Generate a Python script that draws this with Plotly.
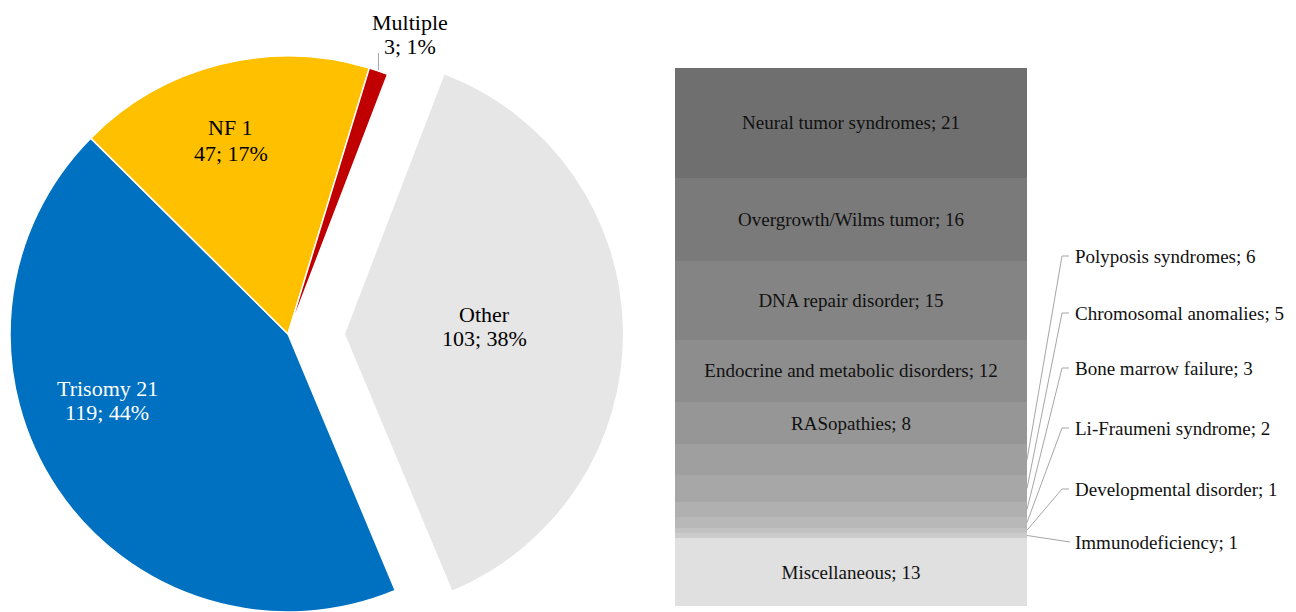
import math
import plotly.graph_objects as go

# ---------------- data ----------------
pie_labels = ["Trisomy 21", "NF 1", "Multiple", "Other"]
pie_values = [119, 47, 3, 103]
pie_colors = ["#0070C0", "#FFC000", "#C00000", "#E7E6E6"]
pie_text_colors = ["white", "black", "black", "black"]

# stacked bar of the "Other" group, bottom to top
bar_labels = ["Miscellaneous", "Immunodeficiency", "Developmental disorder",
              "Li-Fraumeni syndrome", "Bone marrow failure", "Chromosomal anomalies",
              "Polyposis syndromes", "RASopathies", "Endocrine and metabolic disorders",
              "DNA repair disorder", "Overgrowth/Wilms tumor", "Neural tumor syndromes"]
bar_values = [13, 1, 1, 2, 3, 5, 6, 8, 12, 15, 16, 21]
bar_colors = ["#E0E0E0", "#CBCBCB", "#C2C2C2", "#B8B8B8", "#B0B0B0", "#A7A7A7",
              "#9F9F9F", "#969696", "#8D8D8D", "#848484", "#7A7A7A", "#6F6F6F"]
callout = ["Polyposis syndromes", "Chromosomal anomalies", "Bone marrow failure",
           "Li-Fraumeni syndrome", "Developmental disorder", "Immunodeficiency"]

# ---------------- layout constants (pixels) ----------------
W, H = 1296, 612
FONT = "Liberation Serif, Times New Roman, serif"
CX, CY, R = 288, 334, 278        # pie centre / radius
PULL_PX = 57                      # offset of the exploded "Other" slice
ROT = 157.3                       # start angle of first slice (clockwise from 12 o'clock)

BAR_L, BAR_R, BAR_T, BAR_B = 675, 1027, 68, 606

total = sum(pie_values)

def dom_x(cx):
    return [max(0, (cx - R) / W), min(1, (cx + R) / W)]

dom_y = [max(0.0, (H - CY - R) / H), min(1.0, (H - CY + R) / H)]

fig = go.Figure()

# main pie (Other hidden)
colsA = [c if l != "Other" else "rgba(0,0,0,0)" for l, c in zip(pie_labels, pie_colors)]
lwA = [1.5 if l != "Other" else 0 for l in pie_labels]
fig.add_trace(go.Pie(labels=pie_labels, values=pie_values, sort=False,
                     direction="clockwise", rotation=ROT,
                     marker=dict(colors=colsA, line=dict(color="white", width=lwA)),
                     textinfo="none", hoverinfo="label+value+percent",
                     domain=dict(x=dom_x(CX), y=dom_y), showlegend=False))
# exploded "Other" slice
colsB = [c if l == "Other" else "rgba(0,0,0,0)" for l, c in zip(pie_labels, pie_colors)]
fig.add_trace(go.Pie(labels=pie_labels, values=pie_values, sort=False,
                     direction="clockwise", rotation=ROT,
                     marker=dict(colors=colsB, line=dict(color="white", width=0)),
                     textinfo="none", hoverinfo="skip",
                     domain=dict(x=dom_x(CX + PULL_PX), y=dom_y), showlegend=False))

# pie labels (two lines each)
pie_label_pos = {"Trisomy 21": (107, 388, 412), "NF 1": (231, 127, 153),
                 "Multiple": (410, 23, 47), "Other": (484, 314, 338)}
for lab, val, tc in zip(pie_labels, pie_values, pie_text_colors):
    px, py1, py2 = pie_label_pos[lab]
    pct = round(val * 100 / total)
    for txt, py in ((lab, py1), (f"{val}; {pct}%", py2)):
        fig.add_annotation(x=px / W, y=1 - py / H, xref="paper", yref="paper",
                           xanchor="center", yanchor="middle",
                           text=txt, showarrow=False,
                           font=dict(family=FONT, size=22, color=tc))

# leader line for "Multiple"
cum = 0
for lab, val in zip(pie_labels, pie_values):
    if lab == "Multiple":
        mid = math.radians(ROT + (cum + val / 2) / total * 360)
        ex = CX + R * math.sin(mid)
        ey = CY - R * math.cos(mid)
        fig.add_shape(type="line", xref="paper", yref="paper",
                      x0=ex / W, y0=1 - (ey - 1) / H, x1=ex / W, y1=1 - 53 / H,
                      line=dict(color="#A6A6A6", width=1))
    cum += val

# ---------------- stacked bar ----------------
bar_total = sum(bar_values)
unit_px = BAR_R - BAR_L
x_range = [-0.5, -0.5 + (W - BAR_L) / unit_px]

for lab, val, col in zip(bar_labels, bar_values, bar_colors):
    txt = "" if lab in callout else f"{lab}; {val}"
    fig.add_trace(go.Bar(x=[0], y=[val], width=[1], marker=dict(color=col, line=dict(width=0)),
                         text=[txt], textposition="inside", insidetextanchor="middle",
                         textangle=0, constraintext="none",
                         textfont=dict(family=FONT, size=19, color="#111111"),
                         hoverinfo="name+y", name=lab, showlegend=False,
                         xaxis="x", yaxis="y"))

# call-out labels with leader lines
label_py = {"Polyposis syndromes": 256, "Chromosomal anomalies": 313,
            "Bone marrow failure": 368, "Li-Fraumeni syndrome": 428,
            "Developmental disorder": 489, "Immunodeficiency": 542}
def px_to_x(px):
    return (px - BAR_L) / unit_px - 0.5
def py_to_y(py):
    return (BAR_B - py) / (BAR_B - BAR_T) * bar_total

base = 0
for lab, val in zip(bar_labels, bar_values):
    if lab in callout:
        yc = base + val / 2
        yl = py_to_y(label_py[lab])
        if lab == "Immunodeficiency":
            xs = [0.5, px_to_x(1070)]
            ys = [yc, yl]
        else:
            xs = [0.5, px_to_x(1062), px_to_x(1069)]
            ys = [yc, yl, yl]
        fig.add_trace(go.Scatter(x=xs, y=ys, mode="lines",
                                 line=dict(color="#A6A6A6", width=1),
                                 hoverinfo="skip", showlegend=False,
                                 xaxis="x", yaxis="y"))
        fig.add_annotation(x=px_to_x(1073), y=yl, xref="x", yref="y",
                           text=f"{lab}; {val}", showarrow=False, xanchor="left",
                           yanchor="middle",
                           font=dict(family=FONT, size=19, color="#111111"))
    base += val

fig.update_layout(
    width=W, height=H, margin=dict(l=0, r=0, t=0, b=0),
    paper_bgcolor="white", plot_bgcolor="white",
    barmode="stack",
    xaxis=dict(domain=[BAR_L / W, 1], range=x_range, visible=False, fixedrange=True),
    yaxis=dict(domain=[(H - BAR_B) / H, (H - BAR_T) / H], range=[0, bar_total],
               visible=False, fixedrange=True),
)

fig.write_html("out.html", config={"displayModeBar": False},
               post_script="document.body.style.margin='0';document.body.style.overflow='hidden';")
